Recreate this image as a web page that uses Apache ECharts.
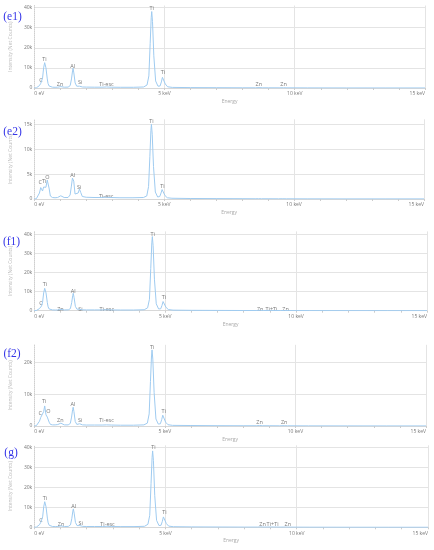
<!DOCTYPE html>
<html><head><meta charset="utf-8">
<script src="https://cdn.jsdelivr.net/npm/echarts@6/dist/echarts.min.js"></script>
<style>html,body{margin:0;padding:0;background:#fff}#c{width:434px;height:550px}</style>
</head><body><div id="c"></div>
<script>
// Energy sample positions (keV), shared by all spectra
const energy = [0, 0.08, 0.15, 0.2, 0.25, 0.28, 0.32, 0.36, 0.40, 0.45, 0.50, 0.53, 0.57, 0.62, 0.7, 0.8, 0.9, 0.97, 1.02, 1.07, 1.15, 1.3, 1.38, 1.43, 1.47, 1.49, 1.52, 1.57, 1.63, 1.69, 1.74, 1.79, 1.85, 2.0, 2.3, 2.6, 2.77, 2.95, 3.3, 3.8, 4.2, 4.33, 4.4, 4.45, 4.49, 4.51, 4.54, 4.59, 4.66, 4.75, 4.83, 4.88, 4.92, 4.94, 4.97, 5.03, 5.12, 5.3, 6.0, 7.0, 8.0, 8.5, 8.63, 8.75, 9.0, 9.4, 9.57, 9.7, 10.5, 12.0, 13.5, 15.0];
// Net counts (thousands)
const countsE1 = [0, 0.1, 0.4, 1.2, 2.3, 2.7, 5, 10, 12.6, 10, 4.5, 2.2, 1.0, 0.6, 0.4, 0.35, 0.4, 0.6, 0.7, 0.55, 0.4, 0.45, 1.2, 4.5, 8.5, 9.8, 7.5, 2.5, 0.9, 0.6, 0.9, 0.6, 0.5, 0.45, 0.4, 0.4, 0.5, 0.4, 0.35, 0.35, 0.5, 1.5, 6, 22, 35, 38, 33, 16, 3.5, 0.9, 1.0, 3.0, 5.3, 5.8, 5.0, 2.0, 0.6, 0.3, 0.2, 0.15, 0.1, 0.1, 0.2, 0.1, 0.1, 0.08, 0.12, 0.08, 0.05, 0.03, 0.02, 0.02];
const countsE2 = [0, 0.05, 0.3, 1.2, 2.3, 2.6, 1.6, 2.4, 2.8, 2.35, 3.8, 4.1, 2.2, 0.6, 0.3, 0.25, 0.3, 0.5, 0.65, 0.45, 0.3, 0.3, 0.8, 2.6, 4.2, 4.6, 3.6, 1.0, 0.6, 1.2, 2.0, 1.3, 0.5, 0.35, 0.3, 0.3, 0.35, 0.3, 0.25, 0.25, 0.3, 0.6, 2.5, 8.5, 13.8, 15.0, 13, 6.5, 1.4, 0.4, 0.5, 1.2, 1.9, 2.0, 1.7, 0.7, 0.25, 0.15, 0.1, 0.08, 0.06, 0.05, 0.06, 0.05, 0.05, 0.04, 0.05, 0.04, 0.03, 0.02, 0.02, 0.02];
const countsF1 = [0, 0.1, 0.4, 1.1, 2.1, 2.5, 4.6, 9.3, 11.7, 9.3, 4.2, 2.0, 0.9, 0.55, 0.4, 0.35, 0.4, 0.55, 0.65, 0.5, 0.4, 0.45, 1.1, 4.2, 8.0, 9.1, 7.0, 2.3, 0.8, 0.55, 0.75, 0.55, 0.45, 0.4, 0.4, 0.4, 0.5, 0.4, 0.35, 0.35, 0.5, 1.5, 6, 22, 35.5, 38.8, 34, 16.5, 3.6, 0.9, 1.0, 2.8, 4.8, 5.2, 4.5, 1.8, 0.6, 0.3, 0.2, 0.15, 0.1, 0.1, 0.2, 0.1, 0.15, 0.08, 0.12, 0.08, 0.05, 0.03, 0.02, 0.02];
const countsF2 = [0, 0.1, 0.5, 1.5, 2.7, 3.0, 2.2, 4.5, 6.3, 3.5, 2.8, 2.6, 1.2, 0.5, 0.35, 0.35, 0.45, 0.8, 0.9, 0.6, 0.35, 0.35, 0.8, 2.8, 5.2, 5.9, 4.5, 1.4, 0.5, 0.45, 0.7, 0.5, 0.35, 0.3, 0.3, 0.3, 0.35, 0.3, 0.25, 0.25, 0.35, 0.9, 3.8, 14, 22, 23.9, 21, 10.5, 2.2, 0.6, 0.7, 2.0, 3.4, 3.7, 3.2, 1.2, 0.4, 0.2, 0.15, 0.1, 0.08, 0.08, 0.15, 0.08, 0.08, 0.06, 0.1, 0.06, 0.04, 0.03, 0.02, 0.02];
const countsG = [0, 0.1, 0.45, 1.3, 2.5, 3.0, 5.2, 10.2, 12.8, 10.2, 4.6, 2.2, 1.0, 0.6, 0.4, 0.35, 0.4, 0.6, 0.7, 0.55, 0.4, 0.45, 1.2, 4.3, 8.1, 9.2, 7.1, 2.4, 0.85, 0.6, 0.85, 0.6, 0.45, 0.4, 0.4, 0.4, 0.5, 0.4, 0.35, 0.35, 0.5, 1.5, 6, 22, 35, 38.2, 33.5, 16, 3.5, 0.9, 1.0, 3.0, 5.2, 5.7, 4.9, 1.9, 0.6, 0.3, 0.2, 0.15, 0.1, 0.1, 0.2, 0.1, 0.15, 0.08, 0.12, 0.08, 0.05, 0.03, 0.02, 0.02];
// Peak labels: [energy keV, label centre (thousand counts), text]
const labelsE1 = [[0.26, 4.0, 'C'], [0.39, 14.3, 'Ti'], [0.99, 2.0, 'Zn'], [1.48, 10.9, 'Al'], [1.76, 3.0, 'Si'], [2.77, 2.0, 'Ti-esc'], [4.51, 39.6, 'Ti'], [4.94, 7.6, 'Ti'], [8.62, 1.8, 'Zn'], [9.57, 1.8, 'Zn']];
const labelsE2 = [[0.23, 3.35, 'C'], [0.38, 3.6, 'Ti'], [0.51, 4.3, 'O'], [1.48, 4.8, 'Al'], [1.73, 2.4, 'Si'], [2.77, 0.55, 'Ti-esc'], [4.51, 15.5, 'Ti'], [4.93, 2.5, 'Ti']];
const labelsF1 = [[0.26, 3.9, 'C'], [0.41, 13.8, 'Ti'], [1.0, 0.9, 'Zn'], [1.49, 10.3, 'Al'], [1.76, 0.9, 'Si'], [2.77, 0.9, 'Ti-esc'], [4.52, 40.0, 'Ti'], [4.95, 6.8, 'Ti'], [8.63, 0.9, 'Zn'], [9.06, 0.9, 'Ti+Ti'], [9.6, 0.9, 'Zn']];
const labelsF2 = [[0.23, 4.0, 'C'], [0.38, 7.6, 'Ti'], [0.54, 4.7, 'O'], [1.0, 1.9, 'Zn'], [1.48, 6.8, 'Al'], [1.76, 1.6, 'Si'], [2.77, 1.6, 'Ti-esc'], [4.52, 24.7, 'Ti'], [4.96, 4.7, 'Ti'], [8.63, 1.2, 'Zn'], [9.57, 1.2, 'Zn']];
const labelsG = [[0.26, 3.65, 'C'], [0.41, 14.3, 'Ti'], [1.02, 1.5, 'Zn'], [1.5, 10.3, 'Al'], [1.77, 2.0, 'Si'], [2.79, 1.5, 'Ti-esc'], [4.54, 39.8, 'Ti'], [4.96, 7.3, 'Ti'], [8.7, 1.2, 'Zn'], [9.08, 1.2, 'Ti+Ti'], [9.66, 1.2, 'Zn']];
const panelNames = ['(e1)', '(e2)', '(f1)', '(f2)', '(g)'];
const xTickLabels = {0: '0 eV', 5: '5 keV', 10: '10 keV', 15: '15 keV'};
const yAxisMax = [41, 16, 41.5, 25.5, 41];
const yAxisStep = [10, 5, 10, 10, 10];

const spectra = [countsE1, countsE2, countsF1, countsF2, countsG];
const peakLabels = [labelsE1, labelsE2, labelsF1, labelsF2, labelsG];
// layout per panel (pixels)
const layout = [
  {top: 5.5, height: 82.5, width: 392, lx: 12.5, ly: 16.7},
  {top: 119.3, height: 79.7, width: 391, lx: 12.5, ly: 131.7},
  {top: 231.4, height: 79.3, width: 394, lx: 11.5, ly: 241.7},
  {top: 344.8, height: 81.2, width: 393, lx: 12, ly: 354},
  {top: 445.3, height: 82, width: 395, lx: 11, ly: 453.3}
];
const FONT = 'Open Sans';
const grids = [], xAxes = [], yAxes = [], series = [], graphics = [];
layout.forEach((L, i) => {
  grids.push({left: 33, top: L.top, width: L.width, height: L.height, containLabel: false});
  xAxes.push({
    type: 'value', gridIndex: i, min: 0, max: 15, interval: 5,
    name: 'Energy', nameLocation: 'middle', nameGap: 11,
    nameTextStyle: {fontSize: 5, color: '#aaa', fontFamily: FONT},
    axisLine: {show: true, lineStyle: {color: '#d8d8d8', width: 1}},
    axisTick: {show: true, length: 2, lineStyle: {color: '#ccc'}},
    minorTick: {show: true, splitNumber: 5, length: 2, lineStyle: {color: '#ccc'}},
    splitLine: {show: true, showMinLine: false, lineStyle: {color: '#e4e4e4', width: 1}},
    axisLabel: {fontSize: 5, color: '#777', fontFamily: FONT, margin: 3.5,
      alignMinLabel: 'left', alignMaxLabel: 'right',
      formatter: v => xTickLabels[v] !== undefined ? xTickLabels[v] : ''}
  });
  yAxes.push({
    type: 'value', gridIndex: i, min: 0, max: yAxisMax[i], interval: yAxisStep[i],
    name: 'Intensity (Net Counts)', nameLocation: 'middle', nameGap: 16,
    nameTextStyle: {fontSize: 5, color: '#bbb', fontFamily: FONT},
    axisLine: {show: true, lineStyle: {color: '#cfcfcf', type: 'dotted', width: 1}},
    axisTick: {show: false},
    splitLine: {show: true, showMaxLine: false, lineStyle: {color: '#e4e4e4', width: 1}},
    axisLabel: {fontSize: 5, color: '#777', fontFamily: FONT, margin: 2, showMaxLabel: false,
      formatter: v => v === 0 ? '0' : v + 'k'}
  });
  series.push({
    type: 'line', xAxisIndex: i, yAxisIndex: i, showSymbol: false, smooth: false,
    lineStyle: {color: '#9fcbf0', width: 1}, silent: true, animation: false,
    data: energy.map((e, k) => [e, spectra[i][k]])
  });
  series.push({
    type: 'scatter', xAxisIndex: i, yAxisIndex: i, symbolSize: 0, silent: true, animation: false,
    clip: false,
    label: {show: true, position: 'inside', formatter: '{b}', fontSize: 5.5, color: '#555', fontFamily: FONT},
    data: peakLabels[i].map(p => ({name: p[2], value: [p[0], p[1]]}))
  });
  graphics.push({type: 'text', x: L.lx, y: L.ly,
    style: {text: panelNames[i], fill: '#3535e8', font: '11.5px "Liberation Serif"', textAlign: 'center', textVerticalAlign: 'middle'}});
});
const chart = echarts.init(document.getElementById('c'), null, {renderer: 'canvas'});
chart.setOption({animation: false, grid: grids, xAxis: xAxes, yAxis: yAxes, series: series, graphic: graphics});
</script></body></html>
